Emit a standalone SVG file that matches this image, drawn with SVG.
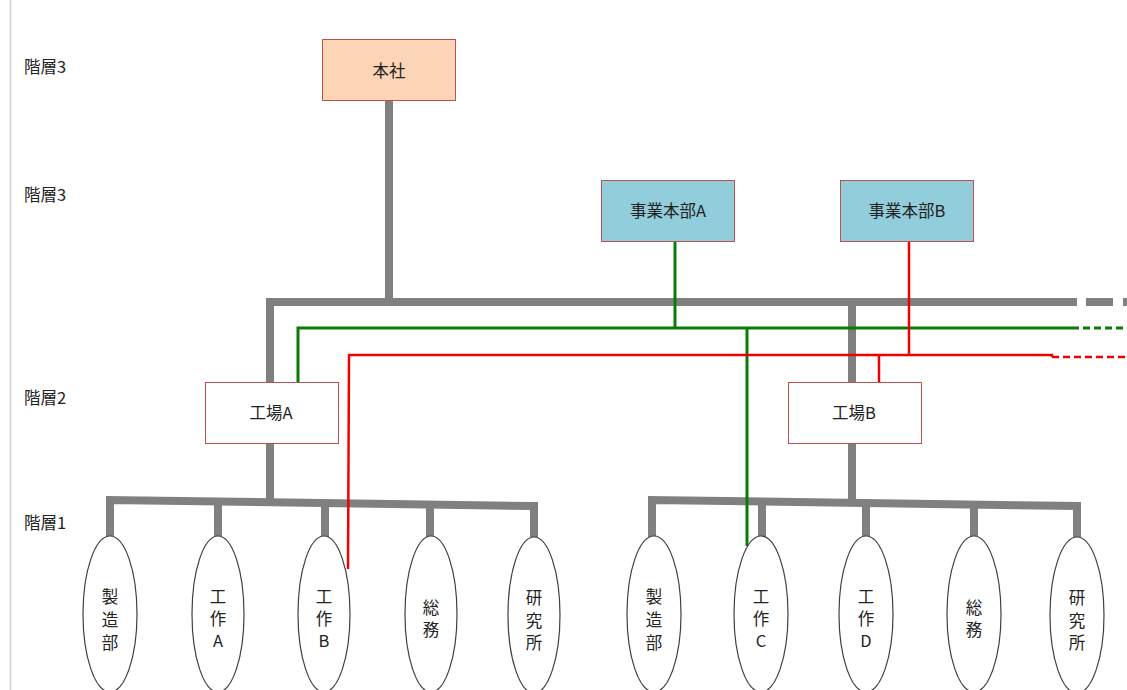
<svg xmlns="http://www.w3.org/2000/svg" width="1127" height="690" viewBox="0 0 1127 690">
<style>
.t{font-family:"Noto Sans CJK JP","Liberation Sans",sans-serif;font-size:16.5px;fill:#222}
.box{stroke:#C0504D;stroke-width:1}
.g{stroke:#808080;stroke-width:8;fill:none}
.gr{stroke:#0A7A0A;stroke-width:3;fill:none}
.rd{stroke:#F00000;stroke-width:2.5;fill:none}
.el{fill:#fff;stroke:#404040;stroke-width:1.2}
</style>
<rect width="1127" height="690" fill="#fff"/>
<line x1="10.5" y1="0" x2="10.5" y2="690" stroke="#cfcfcf" stroke-width="1.5"/>
<g id="levels">
<text class="t" x="24" y="73">階層3</text>
<text class="t" x="24" y="201">階層3</text>
<text class="t" x="24" y="404">階層2</text>
<text class="t" x="24" y="529">階層1</text>
</g>
<g id="connectors">
<line class="g" x1="389" y1="100" x2="389" y2="302"/>
<polyline class="g" points="270,382 270,302 1077,302"/>
<line class="g" x1="1086" y1="302" x2="1113" y2="302"/>
<line class="g" x1="1123" y1="302" x2="1127" y2="302"/>
<line class="g" x1="852" y1="302" x2="852" y2="382"/>
<line class="g" x1="270" y1="444" x2="270" y2="500"/>
<polyline class="g" points="110,537 110,500 534,506 534,538"/>
<line class="g" x1="218" y1="502" x2="218" y2="537"/>
<line class="g" x1="325" y1="503" x2="325" y2="537"/>
<line class="g" x1="430" y1="505" x2="430" y2="537"/>
<line class="g" x1="852" y1="444" x2="852" y2="500"/>
<polyline class="g" points="652,537 652,500 1077,506 1077,538"/>
<line class="g" x1="762" y1="502" x2="762" y2="537"/>
<line class="g" x1="866" y1="503" x2="866" y2="537"/>
<line class="g" x1="974" y1="505" x2="974" y2="537"/>
<line class="gr" x1="675" y1="241" x2="675" y2="328"/>
<polyline class="gr" points="298,382 298,328 1072,328"/>
<line class="gr" x1="1072" y1="328" x2="1127" y2="328" stroke-dasharray="7,4"/>
<line class="gr" x1="747" y1="328" x2="747" y2="546"/>
<line class="rd" x1="909" y1="241" x2="909" y2="355"/>
<polyline class="rd" points="348,569 349,355 1052,355 1052,357"/>
<line class="rd" x1="1052" y1="357" x2="1127" y2="357" stroke-dasharray="7,4"/>
<line class="rd" x1="879" y1="355" x2="879" y2="382"/>
</g>
<g id="honsha">
<rect class="box" x="322.5" y="39.5" width="133" height="61" fill="#FBD5B5"/>
<text class="t" x="389" y="77" text-anchor="middle">本社</text>
</g>
<g id="jigyoA">
<rect class="box" x="601.5" y="180.5" width="133" height="61" fill="#92CDDC"/>
<text class="t" x="668" y="217" text-anchor="middle">事業本部A</text>
</g>
<g id="jigyoB">
<rect class="box" x="840.5" y="180.5" width="133" height="61" fill="#92CDDC"/>
<text class="t" x="907" y="217" text-anchor="middle">事業本部B</text>
</g>
<g id="kojoA">
<rect class="box" x="205.5" y="382.5" width="133" height="61" fill="#fff"/>
<text class="t" x="271" y="419" text-anchor="middle">工場A</text>
</g>
<g id="kojoB">
<rect class="box" x="788.5" y="382.5" width="133" height="61" fill="#fff"/>
<text class="t" x="854" y="419" text-anchor="middle">工場B</text>
</g>
<g id="a1"><ellipse class="el" cx="110" cy="614" rx="27" ry="78"/><text class="t" text-anchor="middle"><tspan x="110" y="603">製</tspan><tspan x="110" y="626">造</tspan><tspan x="110" y="649">部</tspan></text></g>
<g id="a2"><ellipse class="el" cx="218" cy="614" rx="26" ry="78"/><text class="t" text-anchor="middle"><tspan x="218" y="603">工</tspan><tspan x="218" y="625">作</tspan><tspan x="218" y="647">A</tspan></text></g>
<g id="a3"><ellipse class="el" cx="324" cy="614" rx="26" ry="78"/><text class="t" text-anchor="middle"><tspan x="324" y="603">工</tspan><tspan x="324" y="625">作</tspan><tspan x="324" y="647">B</tspan></text></g>
<g id="a4"><ellipse class="el" cx="431" cy="614" rx="26" ry="78"/><text class="t" text-anchor="middle"><tspan x="431" y="614">総</tspan><tspan x="431" y="636">務</tspan></text></g>
<g id="a5"><ellipse class="el" cx="534" cy="615" rx="26" ry="78"/><text class="t" text-anchor="middle"><tspan x="534" y="604">研</tspan><tspan x="534" y="627">究</tspan><tspan x="534" y="649">所</tspan></text></g>
<g id="b1"><ellipse class="el" cx="654" cy="614" rx="27" ry="78"/><text class="t" text-anchor="middle"><tspan x="654" y="603">製</tspan><tspan x="654" y="626">造</tspan><tspan x="654" y="649">部</tspan></text></g>
<g id="b2"><ellipse class="el" cx="761" cy="614" rx="27" ry="78"/><text class="t" text-anchor="middle"><tspan x="761" y="603">工</tspan><tspan x="761" y="625">作</tspan><tspan x="761" y="647">C</tspan></text></g>
<g id="b3"><ellipse class="el" cx="866" cy="614" rx="27" ry="78"/><text class="t" text-anchor="middle"><tspan x="866" y="603">工</tspan><tspan x="866" y="625">作</tspan><tspan x="866" y="647">D</tspan></text></g>
<g id="b4"><ellipse class="el" cx="974" cy="614" rx="27" ry="78"/><text class="t" text-anchor="middle"><tspan x="974" y="614">総</tspan><tspan x="974" y="636">務</tspan></text></g>
<g id="b5"><ellipse class="el" cx="1077" cy="615" rx="27" ry="78"/><text class="t" text-anchor="middle"><tspan x="1077" y="604">研</tspan><tspan x="1077" y="627">究</tspan><tspan x="1077" y="649">所</tspan></text></g>
</svg>
